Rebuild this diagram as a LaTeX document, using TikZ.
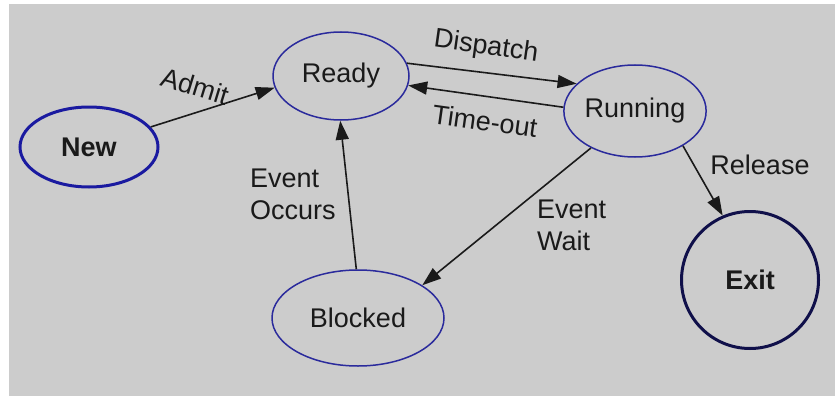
\documentclass[tikz,border=0pt]{standalone}
\usepackage{fontspec}
\setmainfont{Liberation Sans}
\usetikzlibrary{shapes.geometric,arrows.meta}
\definecolor{bggray}{HTML}{CCCCCC}
\definecolor{stateblue}{HTML}{2A2A9C}
\definecolor{newblue}{HTML}{1A1AA0}
\definecolor{exitnavy}{HTML}{10104A}
\definecolor{txt}{HTML}{1A1A1A}
\tikzset{
  state/.style={ellipse, draw=stateblue, line width=1.5pt, inner sep=0pt, text=txt,
    font=\fontsize{27}{32}\selectfont},
  thickstate/.style={state, line width=3pt},
  trans/.style={-{Triangle[length=19pt,width=13pt]}, line width=1.6pt, draw=txt},
  lbl/.style={text=txt, font=\fontsize{27}{32}\selectfont, inner sep=0pt}
}
\begin{document}
\begin{tikzpicture}[x=1pt,y=-1pt]
\useasboundingbox (0,0) rectangle (835,396);
\fill[white] (0,0) rectangle (835,396);
\fill[bggray] (9,4) rectangle (835,396);

\node[thickstate, draw=newblue, minimum width=138pt, minimum height=80pt, font=\fontsize{27}{32}\selectfont\bfseries] (new) at (89,147) {New};
\node[state, minimum width=136pt, minimum height=88pt] (ready) at (341,76) {Ready};
\node[state, minimum width=140pt, minimum height=92pt] (running) at (635,111) {Running};
\node[state, minimum width=172pt, minimum height=96pt] (blocked) at (358,318) {Blocked};
\node[thickstate, draw=exitnavy, circle, minimum size=137pt, font=\fontsize{27}{32}\selectfont\bfseries] (exit) at (750,280) {Exit};

\draw[trans] (new.18) -- (ready.190);
\draw[trans] (ready.11) -- (running.155);
\draw[trans] (running.177) -- (ready.-8);
\draw[trans] (running.220) -- (blocked.27);
\draw[trans] (running.-36) -- (exit.113);
\draw[trans] (blocked.92) -- (ready.-91);

\node[lbl, rotate=-17] (ladmit) at (195,86) {Admit};
\node[lbl, rotate=-8] (ldispatch) at (486,47) {Dispatch};
\node[lbl, rotate=-8] (ltimeout) at (485,121) {Time-out};
\node[lbl] (lrelease) at (760,165) {Release};
\node[lbl, anchor=west, align=left] (lwait) at (537,225) {Event\\Wait};
\node[lbl, anchor=west, align=left] (loccurs) at (250,194) {Event\\Occurs};
\end{tikzpicture}
\end{document}
